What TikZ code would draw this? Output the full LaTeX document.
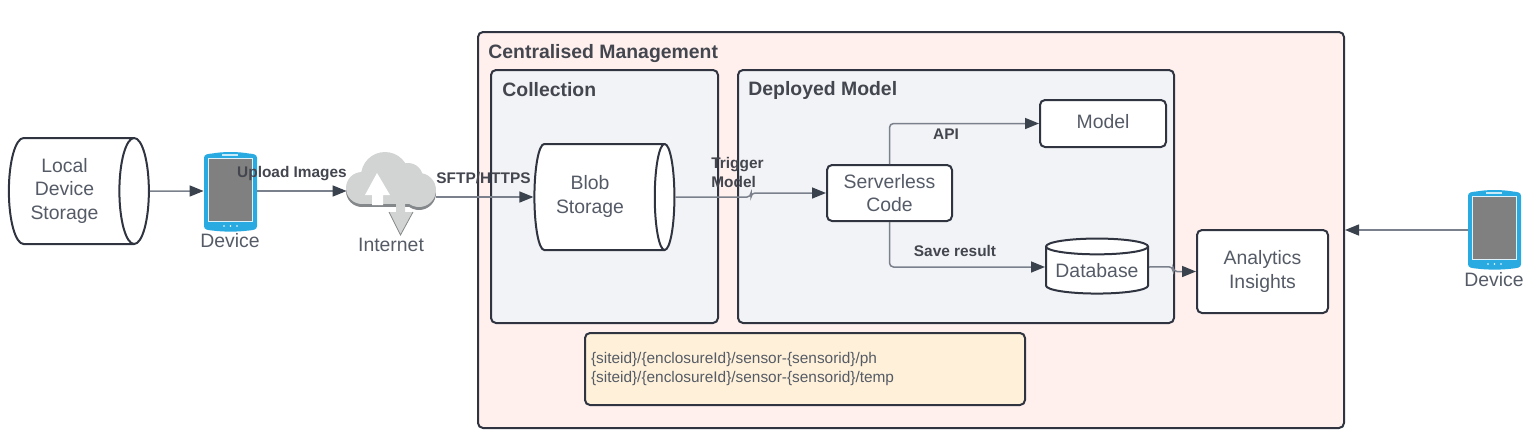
\documentclass[tikz,border=0pt]{standalone}
\usepackage{fontspec}
\setmainfont{Liberation Sans}
\usetikzlibrary{arrows.meta,shapes.geometric}
\definecolor{inkline}{HTML}{2F3440}
\definecolor{conn}{HTML}{7B818C}
\definecolor{tip}{HTML}{3A424E}
\definecolor{txt}{HTML}{555B66}
\definecolor{btxt}{HTML}{43464E}
\definecolor{pinkbg}{HTML}{FFF0EE}
\definecolor{graybg}{HTML}{F2F3F6}
\definecolor{yellowbg}{HTML}{FFF1D9}
\definecolor{blue}{HTML}{29ABE2}
\definecolor{cloudc}{HTML}{D2D4D3}
\definecolor{cloudd}{HTML}{85888A}
\tikzset{
  body/.style={font=\fontsize{9.7pt}{11.7pt}\selectfont,text=txt,align=center},
  boxx/.style={draw=inkline,line width=1pt,rounded corners=2.5pt,inner sep=0pt,anchor=center},
  whitebox/.style={boxx,fill=white,body},
  panel/.style={boxx,fill=graybg},
  title/.style={font=\fontsize{9.7pt}{11.7pt}\bfseries\selectfont,text=btxt,anchor=west,inner sep=0pt},
  lbl/.style={font=\fontsize{7.7pt}{9.5pt}\bfseries\selectfont,text=btxt,align=left,inner sep=0pt},
  hcyl/.style={cylinder,draw=inkline,line width=1pt,fill=white,body,shape aspect=0.42,inner sep=0pt},
  conline/.style={draw=conn,line width=0.75pt,rounded corners=2pt,-{Triangle[length=7pt,width=5.5pt,color=tip]}},
  plain/.style={body,inner sep=0pt}
}
\newcommand{\cyltext}[3]{\raisebox{#2}{\begin{tabular}{@{}c@{}}#3\end{tabular}}\hspace*{#1}}
\newcommand{\devicepic}[1]{%
  \begin{scope}[shift={(#1)}]
    \fill[blue] (0,6) .. controls (0,2) and (4,2) .. (8,1.5) .. controls (20,-0.5) and (33,-0.5) .. (45,1.5) .. controls (49,2) and (53,2) .. (53,6)
      -- (53,74) .. controls (53,78) and (49,78) .. (45,78.5) .. controls (33,80) and (20,80) .. (8,78.5) .. controls (4,78) and (0,78) .. (0,74) -- cycle;
    \fill[fill=gray!100!white,draw=white!85!blue,line width=0.6pt] (4.5,6.5) rectangle (48.5,69.5);
    \fill[white!75!blue] (18,2.2) rectangle (34,4);
    \fill[white] (20,74) circle (0.9);
    \fill[white] (26.5,74) circle (0.9);
    \fill[white] (33,74) circle (0.9);
  \end{scope}}
\newcommand{\cloudblob}[2]{%
  \begin{scope}[yshift=#1]
    \fill[#2] (362,188) circle (16);
    \fill[#2] (385,176) circle (24);
    \fill[#2] (408,178) circle (15);
    \fill[#2] (419,190) circle (17);
    \fill[#2] (362,180) rectangle (419,204);
    \fill[#2] (375,170) rectangle (410,190);
  \end{scope}}
\begin{document}
\begin{tikzpicture}[x=0.5pt,y=-0.5pt]
\useasboundingbox (0,0) rectangle (1531,445);
% containers
\node[boxx,fill=pinkbg,minimum width=433pt,minimum height=198pt] (central) at (911,230) {};
\node[panel,minimum width=113.5pt,minimum height=126.5pt] (collect) at (604.5,196.5) {};
\node[panel,minimum width=218pt,minimum height=126.5pt] (deploy) at (956,196.5) {};
\node[title] (tcentral) at (488,53.5) {Centralised Management};
\node[title] (tcollect) at (502,90) {Collection};
\node[title] (tdeploy) at (748,90) {Deployed Model};
% shapes
\node[hcyl,minimum width=53pt,minimum height=70pt] (local) at (71,191) {\cyltext{6.5pt}{1pt}{Local\\Device\\Storage}};
\devicepic{204,152}
\node[minimum width=26.5pt,minimum height=39.5pt,inner sep=0pt] (dev1) at (230.5,191) {};
\node[plain] (dev1l) at (230,241) {Device};
% cloud
\cloudblob{-1.5pt}{cloudd}
\cloudblob{0pt}{cloudc}
\fill[white] (377,173) -- (390,195) -- (383,195) -- (383,205) -- (372,205) -- (372,195) -- (365,195) -- cycle;
\fill[cloudc] (396,203) -- (405,203) -- (405,212) -- (413,212) -- (400.5,235) -- (389,212) -- (396,212) -- cycle;
\draw[cloudd,line width=0.4pt] (389,212) -- (400.5,235) -- (413,212);
\node[minimum width=44.5pt,minimum height=27.5pt,inner sep=0pt] (cloud) at (391.5,180) {};
\node[plain] (cloudl) at (391,245) {Internet};
\node[hcyl,minimum width=53pt,minimum height=70pt] (blob) at (599,197) {\cyltext{9pt}{1pt}{Blob\\Storage}};
\node[whitebox,minimum width=62.5pt,minimum height=28pt] (srv) at (889.5,193) {Serverless\\Code};
\node[whitebox,minimum width=63pt,minimum height=23.5pt] (model) at (1103,123.5) {\raisebox{2pt}{Model}};
\node[hcyl,shape border rotate=90,shape aspect=0.19,minimum width=51pt,minimum height=27.5pt] (db) at (1097,270.5) {\raisebox{-2pt}{Database}};
\node[whitebox,minimum width=65.5pt,minimum height=41.5pt] (ana) at (1262.5,271.5) {Analytics\\Insights};
\devicepic{1468,190}
\node[minimum width=26.5pt,minimum height=39.5pt,inner sep=0pt] (dev2) at (1494.5,230) {};
\node[plain] (dev2l) at (1494,280) {Device};
\node[boxx,fill=yellowbg,minimum width=220pt,minimum height=36pt,text width=214pt,align=left,font=\fontsize{7.7pt}{9.5pt}\selectfont,text=txt] (note) at (805,369)
  {\{siteid\}/\{enclosureId\}/sensor-\{sensorid\}/ph\\\{siteid\}/\{enclosureId\}/sensor-\{sensorid\}/temp};
% connectors
\draw[conline] (local.east) -- (dev1.west);
\draw[conline] (dev1.east) -- (dev1.east -| cloud.west);
\draw[conline] (cloud.east |- blob.west) -- (blob.west);
\draw[conline] (blob.east) -- (751,197) -- (751,193) -- (srv.west);
\draw[conline] (srv.north) |- (model.west);
\draw[conline] (srv.south) |- ([yshift=1.75pt]db.west);
\draw[conline] ([yshift=1.75pt]db.east) -- (1173,266.75) -- (1173,271.5) -- (ana.west);
\draw[conline] (dev2.west) -- (dev2.west -| central.east);
% labels
\node[lbl] (l1) at (292,173.5) {Upload Images};
\node[lbl] (l2) at (483.5,178) {SFTP/HTTPS};
\node[lbl,anchor=west] (l3) at (711,172.5) {Trigger\\Model};
\node[lbl] (l4) at (946,134) {API};
\node[lbl] (l5) at (955,251) {Save result};
\end{tikzpicture}
\end{document}
